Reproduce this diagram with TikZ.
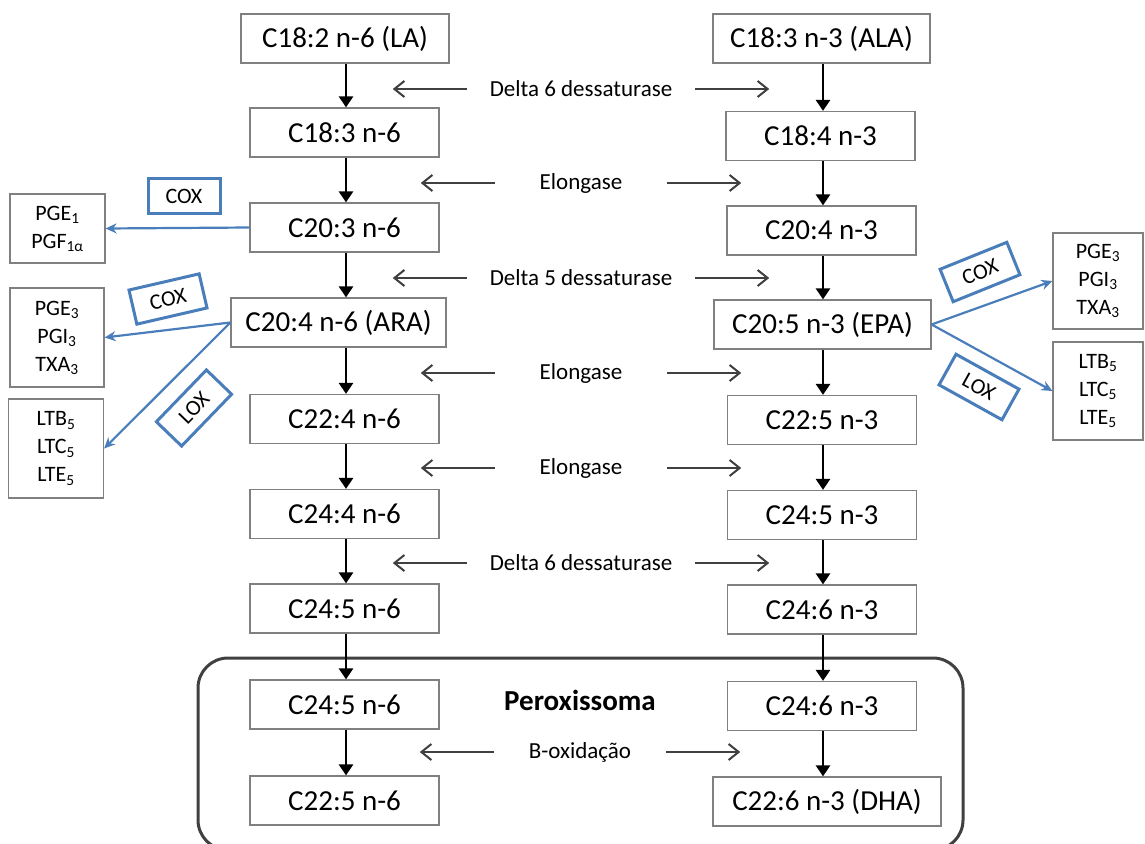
\documentclass[tikz,border=0pt]{standalone}
\usepackage{fontspec}
\setmainfont{Carlito}
\usetikzlibrary{arrows.meta}
\definecolor{oxiblue}{RGB}{74,126,187}
\definecolor{boxgray}{RGB}{128,128,128}
\definecolor{darkline}{RGB}{64,64,64}

\begin{document}
\begin{tikzpicture}[x=1pt, y=-1pt,
    acid/.style={draw=boxgray, line width=1.2pt, minimum width=189pt, minimum height=49pt, inner sep=0pt, font=\fontsize{29}{34}\selectfont},
    enzyme/.style={inner sep=0pt, font=\fontsize{23}{27}\selectfont},
    product/.style={draw=boxgray, line width=1.2pt, align=center, inner sep=0pt, font=\fontsize{22}{28}\selectfont},
    enzbox/.style={draw=oxiblue, line width=3pt, minimum width=72pt, minimum height=35pt, inner sep=0pt, font=\fontsize{22}{24}\selectfont},
    conv/.style={line width=2.5pt, -{Triangle[width=14pt,length=11pt]}},
    side/.style={darkline, line width=2pt, -{Straight Barb[length=10pt,width=16pt]}},
    oxi/.style={oxiblue, line width=2.2pt, -{Stealth[length=11pt,width=10pt]}}]
      \useasboundingbox (0,0) rectangle (1145,843);

      % peroxissoma
      \draw[darkline, line width=3pt, rounded corners=30pt] (198,658) rectangle (963,850);
      \node[font=\bfseries\fontsize{29}{34}\selectfont] (perox) at (580,700) {Peroxissoma};

      % n-6
      \node[acid, minimum width=208pt] (la) at (345,38.5) {C18:2 n-6 (LA)};
      \node[acid] (c183n6) at (344.5,132.5) {C18:3 n-6};
      \node[acid] (c203n6) at (344.5,227.5) {C20:3 n-6};
      \node[acid, minimum width=215pt] (ara) at (338.5,322.5) {C20:4 n-6 (ARA)};
      \node[acid] (c224n6) at (344.5,419) {C22:4 n-6};
      \node[acid] (c244n6) at (344.5,514) {C24:4 n-6};
      \node[acid] (c245n6) at (344.5,608.5) {C24:5 n-6};
      \node[acid] (p245n6) at (344.5,704.5) {C24:5 n-6};
      \node[acid] (c225n6) at (344.5,800.5) {C22:5 n-6};

      % n-3
      \node[acid, minimum width=217pt] (ala) at (821.5,38.5) {C18:3 n-3 (ALA)};
      \node[acid] (c184n3) at (820.5,136) {C18:4 n-3};
      \node[acid] (c204n3) at (821.5,230.5) {C20:4 n-3};
      \node[acid, minimum width=217pt] (epa) at (822.5,324.5) {C20:5 n-3 (EPA)};
      \node[acid] (c225n3) at (822,420) {C22:5 n-3};
      \node[acid] (c245n3) at (822,515) {C24:5 n-3};
      \node[acid] (c246n3) at (822,609.5) {C24:6 n-3};
      \node[acid] (p246n3) at (822,706) {C24:6 n-3};
      \node[acid, minimum width=228pt] (dha) at (827,801.5) {C22:6 n-3 (DHA)};

      \coordinate (lcol) at (346,0);
      \coordinate (rcol) at (823,0);
      \foreach \a/\b in {la/c183n6, c183n6/c203n6, c203n6/ara, ara/c224n6, c224n6/c244n6,
                         c244n6/c245n6, c245n6/p245n6, p245n6/c225n6}
        \draw[conv] (lcol |- \a.south) -- (lcol |- \b.north);
      \foreach \a/\b in {ala/c184n3, c184n3/c204n3, c204n3/epa, epa/c225n3, c225n3/c245n3,
                         c245n3/c246n3, c246n3/p246n3, p246n3/dha}
        \draw[conv] (rcol |- \a.south) -- (rcol |- \b.north);

      % enzimas
      \node[enzyme, minimum width=228pt] (d6a) at (581,89) {Delta 6 dessaturase};
      \node[enzyme, minimum width=172pt] (elo1) at (581,183) {Elongase};
      \node[enzyme, minimum width=228pt] (d5) at (581,278) {Delta 5 dessaturase};
      \node[enzyme, minimum width=172pt] (elo2) at (581,373) {Elongase};
      \node[enzyme, minimum width=172pt] (elo3) at (581,468) {Elongase};
      \node[enzyme, minimum width=228pt] (d6b) at (581,563) {Delta 6 dessaturase};
      \node[enzyme, minimum width=172pt] (box) at (580,752) {B-oxidação};
      \foreach \e in {d6a, elo1, d5, elo2, elo3, d6b, box} {
        \draw[side] (\e.west) -- ++(-74,0);
        \draw[side] (\e.east) -- ++(74,0);
      }

      % eicosanoides
      \node[product, minimum width=95pt, minimum height=69pt] (pge1) at (57.5,228.5) {PGE\textsubscript{1}\\PGF\textsubscript{1α}};
      \node[product, minimum width=94pt, minimum height=99pt] (pge3l) at (57,337.5) {PGE\textsubscript{3}\\PGI\textsubscript{3}\\TXA\textsubscript{3}};
      \node[product, minimum width=95pt, minimum height=99pt] (ltbl) at (56,448.5) {LTB\textsubscript{5}\\LTC\textsubscript{5}\\LTE\textsubscript{5}};
      \node[product, minimum width=90pt, minimum height=96pt] (pge3r) at (1098,281) {PGE\textsubscript{3}\\PGI\textsubscript{3}\\TXA\textsubscript{3}};
      \node[product, minimum width=90pt, minimum height=98pt] (ltbr) at (1098,391) {LTB\textsubscript{5}\\LTC\textsubscript{5}\\LTE\textsubscript{5}};

      \node[enzbox] (cox1) at (184,196) {COX};
      \node[enzbox, rotate=13] (cox2) at (168,299) {COX};
      \node[enzbox, rotate=46] (lox1) at (194,408) {LOX};
      \node[enzbox, rotate=22] (cox3) at (980,272) {COX};
      \node[enzbox, rotate=-29] (lox2) at (979,387) {LOX};

      \draw[oxi] (c203n6.west) -- (pge1.east);
      \draw[oxi] (ara.west) -- (pge3l.east);
      \draw[oxi] (ara.west) -- (ltbl.east);
      \draw[oxi] (epa.east) -- (pge3r.west);
      \draw[oxi] (epa.east) -- (ltbr.west);
\end{tikzpicture}
\end{document}
